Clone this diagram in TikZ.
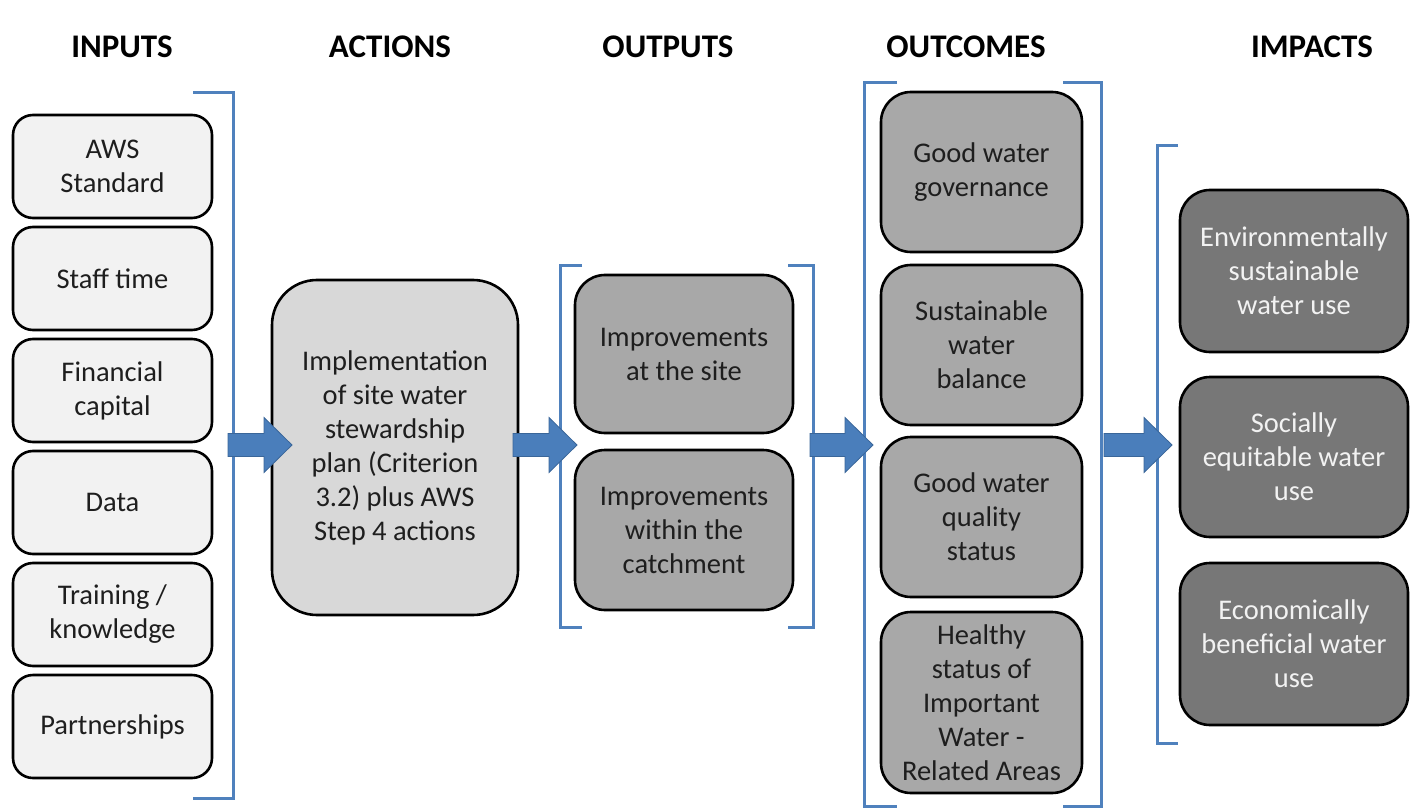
\documentclass[tikz,border=0pt]{standalone}
\usepackage{fontspec}
\setmainfont{Carlito}
\definecolor{bracketblue}{HTML}{4F81BD}
\definecolor{arrowblue}{HTML}{4A7EBB}
\definecolor{arrowedge}{HTML}{3A6699}
\definecolor{inputfill}{HTML}{F2F2F2}
\definecolor{actionfill}{HTML}{D8D8D8}
\definecolor{midfill}{HTML}{A8A8A8}
\definecolor{impactfill}{HTML}{777777}
\definecolor{txt}{HTML}{1E1E1E}
\tikzset{
  box/.style={draw=black, line width=2.6pt, align=center, text=txt,
    font=\fontsize{28.5}{34}\selectfont, inner sep=0pt},
  inbox/.style={box, fill=inputfill, rounded corners=20pt},
  actbox/.style={box, fill=actionfill, rounded corners=45pt},
  midbox/.style={box, fill=midfill, rounded corners=30pt},
  impbox/.style={box, fill=impactfill, rounded corners=30pt, text=inputfill},
  header/.style={font=\bfseries\fontsize{33}{40}\selectfont, text=black},
  brk/.style={draw=bracketblue, line width=3pt},
  blockarrow/.style={fill=arrowblue, draw=arrowedge, line width=0.8pt},
}
% box from corner coordinates: name, x1, y1, x2, y2, style, text
\newcommand{\bx}[7]{%
  \node[#6, minimum width={(#4)-(#2)}, minimum height={(#5)-(#3)}]
    (#1) at ({((#2)+(#4))/2},{((#3)+(#5))/2}) {#7};}
% block arrow: name, x1, x2, y
\newcommand{\barrow}[4]{%
  \coordinate (#1s) at (#2,#4);
  \coordinate (#1e) at (#3,#4);
  \fill[blockarrow] (#2,#4-11.5) -- (#3-28,#4-11.5) -- (#3-28,#4-27.5)
    -- (#1e) -- (#3-28,#4+27.5) -- (#3-28,#4+11.5) -- (#2,#4+11.5) -- cycle;}
\begin{document}
\begin{tikzpicture}[x=1pt,y=-1pt]
\useasboundingbox (0,0) rectangle (1412,810);
\fill[white] (0,0) rectangle (1412,810);

% headers
\node[header] (hIn)  at (122,47)  {INPUTS};
\node[header] (hAct) at (390,47)  {ACTIONS};
\node[header] (hOut) at (668,47)  {OUTPUTS};
\node[header] (hOc)  at (966,47)  {OUTCOMES};
\node[header] (hImp) at (1312,47) {IMPACTS};

% brackets
\draw[brk] (193,93) -- (233,93) -- (233,798) -- (193,798);
\draw[brk] (582,265) -- (560,265) -- (560,627) -- (582,627);
\draw[brk] (788,265) -- (813,265) -- (813,627) -- (788,627);
\draw[brk] (897,83) -- (864,83) -- (864,806) -- (897,806);
\draw[brk] (1063,83) -- (1101,83) -- (1101,806) -- (1063,806);
\draw[brk] (1178,146) -- (1157,146) -- (1157,743) -- (1178,743);

% inputs
\bx{in1}{13}{115}{212}{218}{inbox}{AWS\\Standard}
\bx{in2}{13}{227}{212}{330}{inbox}{Staff time}
\bx{in3}{13}{339}{212}{442}{inbox}{Financial\\capital}
\bx{in4}{13}{451}{212}{554}{inbox}{Data}
\bx{in5}{13}{563}{212}{666}{inbox}{Training /\\knowledge}
\bx{in6}{13}{675}{212}{778}{inbox}{Partnerships}

% action
\bx{act}{272}{280}{518}{615}{actbox}{Implementation\\of site water\\stewardship\\plan (Criterion\\3.2) plus AWS\\Step 4 actions}

% outputs
\bx{out1}{575}{275}{793}{433}{midbox}{Improvements\\at the site}
\bx{out2}{575}{450}{793}{610}{midbox}{Improvements\\within the\\catchment}

% outcomes
\bx{oc1}{881}{92}{1082}{252}{midbox}{Good water\\governance}
\bx{oc2}{881}{265}{1082}{425}{midbox}{Sustainable\\water\\balance}
\bx{oc3}{881}{437}{1082}{597}{midbox}{Good water\\quality\\status}
\bx{oc4}{881}{612}{1082}{793}{midbox}{Healthy\\status of\\Important\\Water -\\Related Areas}

% impacts
\bx{im1}{1180}{190}{1408}{352}{impbox}{Environmentally\\sustainable\\water use}
\bx{im2}{1180}{377}{1408}{537}{impbox}{Socially\\equitable water\\use}
\bx{im3}{1180}{563}{1408}{725}{impbox}{Economically\\beneficial water\\use}

% block arrows
\barrow{a1}{228}{292}{445}
\barrow{a2}{513}{577}{445}
\barrow{a3}{810}{873}{445}
\barrow{a4}{1104}{1172}{445}
\end{tikzpicture}
\end{document}
